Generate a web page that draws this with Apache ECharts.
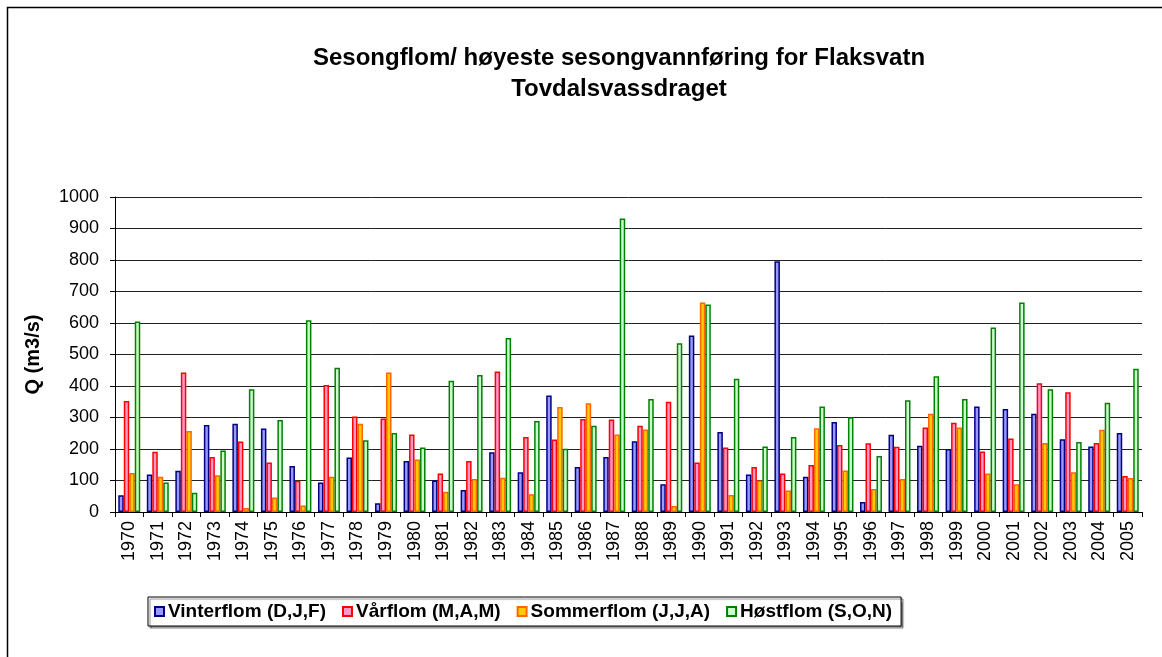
<!DOCTYPE html>
<html>
<head>
<meta charset="utf-8">
<script src="https://cdn.jsdelivr.net/npm/echarts@6/dist/echarts.min.js"></script>
<style>
  html, body { margin: 0; padding: 0; background: #fff; }
  #chart { width: 1162px; height: 657px; }
</style>
</head>
<body>
<div id="chart"></div>
<script>
// år 1970 - 2005
const years = ['1970','1971','1972','1973','1974','1975','1976','1977','1978','1979',
  '1980','1981','1982','1983','1984','1985','1986','1987','1988','1989',
  '1990','1991','1992','1993','1994','1995','1996','1997','1998','1999',
  '2000','2001','2002','2003','2004','2005'];

const vinterflom = [53,119,131,276,280,265,146,94,173,28,
  162,100,70,190,126,370,143,175,225,88,
  560,254,119,796,112,286,32,245,210,200,
  335,327,312,231,208,251];

const varflom = [352,191,443,175,224,157,99,403,303,297,
  246,122,162,446,238,230,295,294,274,350,
  157,205,143,122,149,213,218,207,268,283,
  192,233,409,380,219,114];

const sommerflom = [124,112,257,117,13,46,21,112,280,443,
  167,64,105,109,56,333,345,246,262,19,
  665,54,100,68,266,132,73,105,312,268,
  122,88,219,126,261,108];

const hostflom = [605,94,61,195,390,292,609,458,228,251,
  205,417,435,552,289,201,274,932,359,536,
  659,423,208,238,335,301,178,355,431,359,
  586,665,390,222,347,455];

const yTicks = [0, 1000, 100];

const font = '"Liberation Sans", Arial, sans-serif';

const chartDom = document.getElementById('chart');
const myChart = echarts.init(chartDom, null, { renderer: 'canvas' });

function barSeries(name, data, fill, border) {
  return {
    name: name,
    type: 'bar',
    data: data,
    barGap: '0%',
    barCategoryGap: '23%',
    itemStyle: { color: fill, borderColor: border, borderWidth: 1.5 }
  };
}

const option = {
  animation: false,
  backgroundColor: '#fff',
  title: {
    text: 'Sesongflom/ høyeste sesongvannføring for Flaksvatn\nTovdalsvassdraget',
    left: 614,
    top: 38,
    textAlign: 'center',
    textStyle: {
      fontFamily: font,
      fontWeight: 'bold',
      fontSize: 24,
      lineHeight: 31,
      color: '#000'
    }
  },
  legend: {
    left: 148,
    top: 597,
    itemWidth: 9,
    itemHeight: 9,
    itemGap: 16,
    padding: [5, 9, 5, 6],
    borderColor: '#000',
    borderWidth: 1,
    backgroundColor: '#fff',
    shadowColor: 'rgba(0,0,0,0.45)',
    shadowBlur: 1,
    shadowOffsetX: 2,
    shadowOffsetY: 2,
    icon: 'rect',
    textStyle: {
      fontFamily: font,
      fontWeight: 'bold',
      fontSize: 19,
      color: '#000',
      padding: [0, 0, 0, -1]
    }
  },
  grid: { left: 115, right: 20, top: 197, bottom: 145 },
  xAxis: {
    type: 'category',
    data: years,
    axisLine: { lineStyle: { color: '#000', width: 1 } },
    axisTick: { show: true, length: 5, lineStyle: { color: '#000' } },
    axisLabel: {
      rotate: 90,
      interval: 0,
      margin: 9,
      fontFamily: font,
      fontSize: 18,
      color: '#000'
    }
  },
  yAxis: {
    type: 'value',
    min: yTicks[0],
    max: yTicks[1],
    interval: yTicks[2],
    name: 'Q (m3/s)',
    nameLocation: 'middle',
    nameGap: 72,
    nameTextStyle: {
      fontFamily: font,
      fontWeight: 'bold',
      fontSize: 20,
      color: '#000'
    },
    axisLine: { show: true, lineStyle: { color: '#000', width: 1 } },
    axisTick: { show: true, length: 5, lineStyle: { color: '#000' } },
    axisLabel: {
      margin: 16,
      fontFamily: font,
      fontSize: 18,
      color: '#000',
      formatter: (v) => String(v)
    },
    splitLine: { lineStyle: { color: '#222', width: 1 } }
  },
  graphic: [
    {
      type: 'polyline',
      silent: true,
      shape: { points: [[7.5, 657], [7.5, 7.5], [1162, 7.5]] },
      style: { stroke: '#000', lineWidth: 1.5, fill: null }
    }
  ],
  series: [
    barSeries('Vinterflom (D,J,F)', vinterflom, '#9999FF', '#000080'),
    barSeries('Vårflom (M,A,M)', varflom, '#FF99CC', '#FF0000'),
    barSeries('Sommerflom (J,J,A)', sommerflom, '#FFCC00', '#FF6600'),
    barSeries('Høstflom (S,O,N)', hostflom, '#CCFFCC', '#008000')
  ]
};

option && myChart.setOption(option);
window.addEventListener('resize', () => {
  myChart && myChart.resize();
});
</script>
</body>
</html>
